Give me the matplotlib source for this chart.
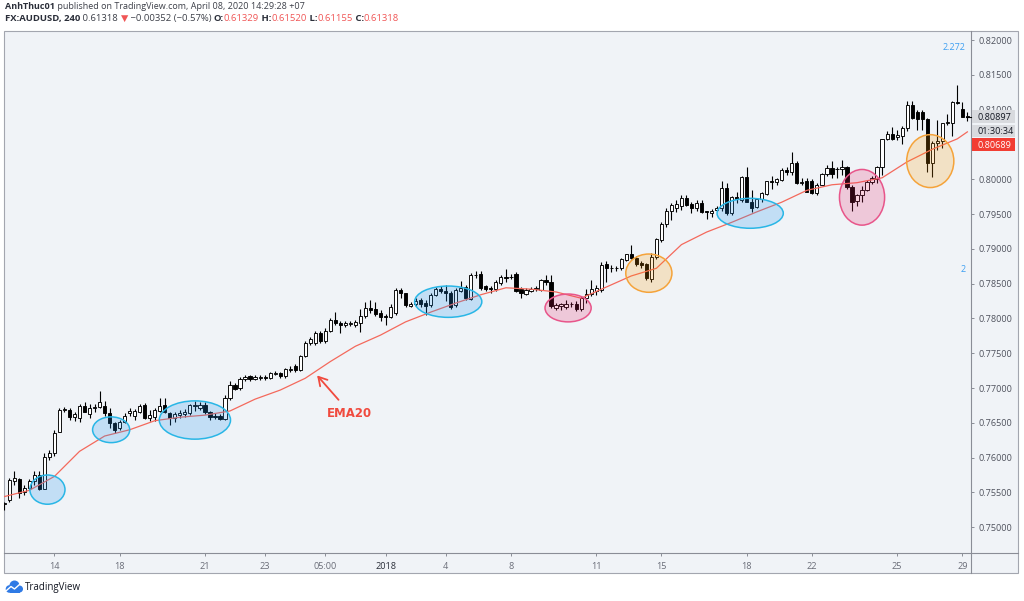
import matplotlib
matplotlib.use("Agg")
import matplotlib.pyplot as plt
import numpy as np
from matplotlib.patches import Ellipse, Rectangle, Circle
from matplotlib.ticker import FuncFormatter

plt.rcParams['font.family'] = ['Open Sans', 'DejaVu Sans']

# AUDUSD 4H candles
opens = [
    .7533, .7539, .7566, .7569, .7550, .7557, .7566, .7575, .7555, .7601,
    .7606, .7637, .7668, .7668, .7658, .7657, .7674, .7663, .7671, .7673,
    .7674, .7664, .7650, .7643, .7651, .7664, .7660, .7665, .7675, .7657,
    .7658, .7667, .7675, .7664, .7657, .7661, .7663, .7664, .7674, .7671,
    .7676, .7665, .7660, .7660, .7656, .7685, .7704, .7700, .7713, .7717,
    .7713, .7715, .7716, .7715, .7720, .7721, .7717, .7726, .7731, .7726,
    .7746, .7764, .7765, .7779, .7768, .7782, .7797, .7793, .7791, .7792,
    .7791, .7793, .7803, .7815, .7814, .7808, .7803, .7802, .7808, .7841,
    .7836, .7818, .7821, .7826, .7822, .7819, .7834, .7842, .7840, .7836,
    .7819, .7840, .7845, .7828, .7863, .7864, .7846, .7843, .7842, .7851,
    .7860, .7859, .7864, .7842, .7835, .7840, .7842, .7841, .7855, .7853,
    .7815, .7818, .7817, .7820, .7821, .7813, .7829, .7835, .7839, .7841,
    .7878, .7872, .7873, .7872, .7884, .7892, .7887, .7879, .7878, .7856,
    .7888, .7913, .7935, .7954, .7959, .7961, .7973, .7964, .7958, .7966,
    .7954, .7952, .7956, .7958, .7987, .7951, .7974, .7970, .8003, .7967,
    .7960, .7971, .7979, .7997, .7996, .7999, .8013, .8011, .8023, .7994,
    .7998, .7997, .7980, .7992, .8007, .8016, .8015, .8014, .8018, .7989,
    .7968, .7977, .7984, .7996, .8001, .8017, .8058, .8065, .8060, .8062,
    .8074, .8107, .8096, .8097, .8087, .8023, .8052, .8055, .8081, .8081,
    .8111, .8101, .8090,
]
highs = [
    .7536, .7571, .7581, .7571, .7561, .7569, .7581, .7581, .7606, .7611,
    .7640, .7671, .7673, .7671, .7665, .7677, .7680, .7677, .7677, .7696,
    .7681, .7671, .7651, .7654, .7664, .7671, .7670, .7677, .7678, .7668,
    .7671, .7685, .7685, .7666, .7665, .7668, .7670, .7677, .7681, .7680,
    .7680, .7667, .7664, .7662, .7690, .7710, .7707, .7716, .7719, .7719,
    .7719, .7719, .7718, .7723, .7725, .7723, .7729, .7732, .7735, .7748,
    .7767, .7773, .7782, .7782, .7786, .7801, .7809, .7796, .7796, .7796,
    .7798, .7813, .7823, .7826, .7823, .7812, .7806, .7820, .7843, .7843,
    .7837, .7823, .7829, .7829, .7826, .7836, .7845, .7846, .7848, .7839,
    .7843, .7854, .7848, .7865, .7868, .7868, .7848, .7846, .7855, .7863,
    .7871, .7864, .7867, .7845, .7843, .7845, .7846, .7857, .7863, .7862,
    .7822, .7822, .7826, .7823, .7825, .7832, .7842, .7855, .7848, .7881,
    .7882, .7877, .7876, .7887, .7893, .7905, .7889, .7882, .7880, .7894,
    .7916, .7938, .7958, .7966, .7970, .7978, .7978, .7967, .7970, .7970,
    .7955, .7957, .7962, .7997, .7994, .7976, .7981, .8005, .8017, .7984,
    .7973, .7981, .7998, .8004, .8002, .8016, .8018, .8039, .8026, .8002,
    .8002, .8001, .7994, .8009, .8020, .8026, .8018, .8027, .8019, .7991,
    .7979, .7990, .7999, .8004, .8019, .8058, .8069, .8075, .8070, .8076,
    .8112, .8112, .8100, .8100, .8088, .8055, .8085, .8081, .8094, .8112,
    .8135, .8111, .8096,
]
lows = [
    .7525, .7536, .7561, .7542, .7546, .7554, .7561, .7553, .7555, .7596,
    .7603, .7637, .7665, .7654, .7653, .7651, .7665, .7657, .7665, .7671,
    .7660, .7643, .7635, .7640, .7650, .7660, .7654, .7664, .7655, .7653,
    .7653, .7665, .7664, .7647, .7651, .7657, .7658, .7661, .7667, .7668,
    .7662, .7654, .7655, .7654, .7654, .7683, .7697, .7697, .7710, .7710,
    .7711, .7711, .7712, .7713, .7718, .7715, .7715, .7723, .7723, .7724,
    .7744, .7762, .7762, .7765, .7765, .7780, .7790, .7779, .7788, .7789,
    .7788, .7780, .7800, .7808, .7803, .7796, .7790, .7800, .7805, .7830,
    .7816, .7816, .7818, .7817, .7805, .7816, .7832, .7836, .7825, .7813,
    .7816, .7838, .7826, .7826, .7858, .7841, .7839, .7836, .7840, .7848,
    .7853, .7856, .7838, .7829, .7833, .7838, .7839, .7839, .7848, .7815,
    .7812, .7812, .7813, .7816, .7810, .7810, .7822, .7832, .7834, .7838,
    .7852, .7867, .7868, .7869, .7882, .7885, .7875, .7872, .7855, .7853,
    .7886, .7910, .7931, .7941, .7953, .7956, .7961, .7951, .7955, .7951,
    .7943, .7946, .7954, .7955, .7948, .7948, .7966, .7967, .7967, .7953,
    .7959, .7967, .7977, .7986, .7991, .7997, .8006, .8006, .7993, .7992,
    .7981, .7979, .7978, .7991, .8004, .8002, .8002, .8006, .7986, .7954,
    .7961, .7967, .7983, .7993, .7994, .8006, .8056, .8056, .8056, .8050,
    .8069, .8086, .8071, .8071, .8010, .8003, .8042, .8045, .8078, .8062,
    .8108, .8089, .8084,
]
closes = [
    .7535, .7568, .7571, .7549, .7556, .7566, .7575, .7555, .7601, .7606,
    .7636, .7668, .7670, .7658, .7662, .7674, .7665, .7671, .7673, .7680,
    .7664, .7650, .7640, .7651, .7660, .7667, .7667, .7674, .7657, .7661,
    .7668, .7674, .7665, .7657, .7662, .7664, .7665, .7675, .7676, .7675,
    .7665, .7658, .7658, .7656, .7685, .7704, .7699, .7713, .7716, .7713,
    .7716, .7716, .7715, .7721, .7722, .7717, .7727, .7728, .7726, .7746,
    .7764, .7770, .7779, .7768, .7782, .7798, .7794, .7791, .7793, .7793,
    .7795, .7803, .7815, .7812, .7806, .7802, .7802, .7817, .7841, .7836,
    .7819, .7821, .7825, .7820, .7818, .7834, .7842, .7839, .7837, .7817,
    .7841, .7844, .7829, .7863, .7862, .7844, .7842, .7842, .7852, .7860,
    .7858, .7860, .7840, .7836, .7841, .7842, .7843, .7855, .7853, .7818,
    .7819, .7820, .7821, .7821, .7813, .7830, .7835, .7842, .7844, .7877,
    .7872, .7873, .7872, .7885, .7892, .7887, .7878, .7877, .7858, .7888,
    .7914, .7936, .7954, .7963, .7964, .7973, .7963, .7958, .7966, .7953,
    .7953, .7955, .7958, .7987, .7951, .7974, .7971, .8003, .7967, .7959,
    .7971, .7980, .7997, .7996, .8000, .8013, .8011, .8023, .7994, .7996,
    .7981, .7980, .7992, .8007, .8016, .8007, .8014, .8018, .7989, .7967,
    .7977, .7984, .7996, .8002, .8017, .8058, .8065, .8058, .8063, .8074,
    .8107, .8088, .8086, .8087, .8023, .8052, .8055, .8081, .8082, .8111,
    .8110, .8089, .8090,
]

# EMA20 line, sampled every 5 bars
ema_idx = list(range(0, 191, 5)) + [192]
ema20 = [
    .7544, .7553, .7573, .7609, .7631, .7640, .7653, .7658, .7661, .7667,
    .7684, .7697, .7714, .7738, .7760, .7776, .7795, .7809, .7822, .7834,
    .7844, .7842, .7838, .7829, .7845, .7861, .7872, .7906, .7924, .7938,
    .7953, .7967, .7984, .7992, .7995, .8002, .8025, .8043, .8058, .8068,
]

tick_pos = [10, 23, 40, 52, 64, 76, 88, 101, 118, 131, 148, 161, 178, 191]
tick_labels = ['14', '18', '21', '23', '05:00', '2018', '4', '8', '11', '15',
               '18', '22', '25', '29']

# highlighted zones: bar index, price, width (bars), height (price), kind
zone_idx = [8.6, 21.3, 38.0, 88.5, 148.7, 112.4, 171.0, 128.5, 184.6]
zone_price = [.7554, .7640, .7654, .7824, .7951, .7815, .7974, .7865, .8026]
zone_w = [7.0, 7.4, 14.2, 13.4, 13.2, 9.2, 9.0, 9.2, 9.4]
zone_h = [.0042, .0037, .0055, .0045, .0043, .0040, .0080, .0055, .0076]
zone_kind = ['blue', 'blue', 'blue', 'blue', 'blue', 'pink', 'pink', 'orange', 'orange']

zone_style = {
    'blue': ((0.13, 0.59, 0.95, 0.22), '#29b6e6'),
    'pink': ((0.91, 0.12, 0.39, 0.2), '#e8558a'),
    'orange': ((1.0, 0.6, 0.0, 0.2), '#f5a33a'),
}

last_price = '0.80897'
countdown = '01:30:34'
ema_last = '0.80689'

W, H = 1024, 601
fig = plt.figure(figsize=(W / 100, H / 100), dpi=100)
fig.patch.set_facecolor('white')

# chrome drawn in pixel coordinates
left, right, top, axis_y, bottom_y, frame_r = 4, 971, 31, 553, 573, 1018
grey = '#50535e'
line_c = '#8a8d96'

back = fig.add_axes([0, 0, 1, 1], zorder=0)
back.set_xlim(0, W)
back.set_ylim(H, 0)
back.axis('off')
back.add_patch(Rectangle((left, top), frame_r - left, bottom_y - top,
                         facecolor='#f0f3f7', edgecolor='#a3a6af', lw=0.8))
back.plot([left, frame_r], [axis_y, axis_y], color=line_c, lw=0.8)
back.plot([right, right], [top, bottom_y], color=line_c, lw=0.8)

# main price panel
ax = fig.add_axes([left / W, 1 - axis_y / H, (right - left) / W, (axis_y - top) / H], zorder=1)
ax.set_facecolor('none')
for s in ax.spines.values():
    s.set_visible(False)

px_per_unit = 6960.0
y_lo = 0.82 - (axis_y - 40) / px_per_unit
y_hi = 0.82 + (40 - top) / px_per_unit
ax.set_ylim(y_lo, y_hi)
ax.set_xlim((left - 4.3) / 5.016, (right - 4.3) / 5.016)

o = np.array(opens)
h = np.array(highs)
l = np.array(lows)
c = np.array(closes)
idx = np.arange(len(c))
up = c >= o

ax.vlines(idx, l, h, color='black', lw=0.8, zorder=2)
ax.bar(idx, np.maximum(np.abs(c - o), 0.00002), bottom=np.minimum(o, c), width=0.64,
       color=np.where(up, 'white', 'black'), edgecolor='black', lw=0.65, zorder=3)

ax.plot(ema_idx, ema20, color='#f4695c', lw=0.9, zorder=4)

for xi, yi, wi, hi, k in zip(zone_idx, zone_price, zone_w, zone_h, zone_kind):
    fc, ec = zone_style[k]
    ax.add_patch(Ellipse((xi, yi), wi, hi, facecolor=fc, edgecolor=ec, lw=1.1, zorder=5))

red = '#f04a3e'
ax.annotate('', xy=(62.0, .7721), xytext=(67.0, .7680),
            arrowprops=dict(arrowstyle='->,head_length=0.6,head_width=0.35', color=red, lw=1.3),
            zorder=6)
ax.text(68.9, .7664, 'EMA20', color=red, fontsize=8.5, fontweight='bold',
        ha='center', va='center', family=['DejaVu Sans'], zorder=6)

ax.yaxis.tick_right()
ax.set_yticks(np.arange(0.75, 0.82001, 0.005))
ax.yaxis.set_major_formatter(FuncFormatter(lambda v, p: f'{v:.5f}'))
ax.tick_params(axis='y', length=2.5, width=0.7, color=line_c, labelsize=6.6,
               labelcolor=grey, pad=3)
ax.set_xticks(tick_pos)
ax.set_xticklabels(tick_labels)
ax.tick_params(axis='x', length=2.5, width=0.7, color=line_c, labelsize=6.6,
               labelcolor='#6a6d78', pad=4)
for t in ax.get_xticklabels():
    if t.get_text() == '2018':
        t.set_color('#2a2e39')

# overlay for header, price tags and logo
front = fig.add_axes([0, 0, 1, 1], zorder=3)
front.set_xlim(0, W)
front.set_ylim(H, 0)
front.axis('off')
front.patch.set_alpha(0)

box_x0, box_x1 = 972, 1015
tags = [(last_price, 110, 123, '#d8dade', '#131722'),
        (countdown, 125, 137, '#d8dade', '#131722'),
        (ema_last, 138, 151, '#f23d33', 'white')]
for txt, y0, y1, fc, tc in tags:
    front.add_patch(Rectangle((box_x0, y0), box_x1 - box_x0, y1 - y0, facecolor=fc,
                              edgecolor='none'))
    front.text(box_x0 + 5, (y0 + y1) / 2 + 0.5, txt, color=tc, fontsize=6.6,
               ha='left', va='center')
front.plot([966, 971], [117, 117], color='black', lw=0.8)

front.text(954, 47.5, '2.272', color='#3d9ff2', fontsize=6.5, ha='center', va='center')
front.text(963, 270, '2', color='#3d9ff2', fontsize=6.5, ha='center', va='center')

dark = '#2a2e39'
pink = '#f05656'


def chain(parts, x, y, size):
    prev = None
    for s, col, wt in parts:
        if prev is None:
            prev = front.text(x, y, s, color=col, fontweight=wt, fontsize=size,
                              ha='left', va='center')
        else:
            prev = front.annotate(s, xy=(1, 0.5), xycoords=prev, color=col,
                                  fontweight=wt, fontsize=size, ha='left', va='center')


chain([('AnhThuc01', dark, 'bold'),
       (' published on TradingView.com, April 08, 2020 14:29:28 +07', '#3c3f48', 'normal')],
      5, 6.5, 6.5)
chain([('FX:AUDUSD, 240', dark, 'bold'),
       (' 0.61318 ', '#3c3f48', 'normal'),
       ('▼', pink, 'normal'),
       (' \u22120.00352 (\u22120.57%) ', '#3c3f48', 'normal'),
       ('O:', dark, 'bold'), ('0.61329', pink, 'normal'),
       (' H:', dark, 'bold'), ('0.61520', pink, 'normal'),
       (' L:', dark, 'bold'), ('0.61155', pink, 'normal'),
       (' C:', dark, 'bold'), ('0.61318', pink, 'normal')],
      5, 18.5, 6.8)

# TradingView logo
logo_c = '#2f7ae5'
for cx, cy, r in [(9.5, 589, 3.8), (14.5, 585.5, 5.0), (19.5, 589, 3.5)]:
    front.add_patch(Circle((cx, cy), r, facecolor=logo_c, edgecolor='none'))
front.add_patch(Rectangle((9.5, 588), 10, 4.5, facecolor=logo_c, edgecolor='none'))
front.plot([6.5, 11, 14.5, 19.5], [590.5, 586.5, 589, 584.5], color='white', lw=1.0)
front.text(25, 587.5, 'TradingView', color='#131722', fontsize=7, ha='left', va='center')

fig.savefig('out.png', dpi=100, facecolor='white')
